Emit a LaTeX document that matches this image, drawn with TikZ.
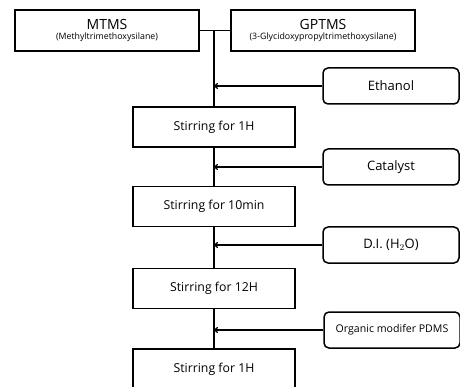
\documentclass[tikz,border=0pt]{standalone}
\usepackage{fontspec}
\setmainfont{Open Sans}
\usetikzlibrary{positioning, arrows.meta, calc}
\tikzset{
  srcbox/.style={draw, line width=1.5pt, minimum width=184pt, minimum height=41pt, inner sep=0pt, align=center},
  stirbox/.style={draw, line width=1.5pt, minimum width=162pt, minimum height=40pt, inner sep=0pt, font=\fontsize{12.3}{14}\selectfont},
  addbox/.style={draw, line width=1.5pt, rounded corners=5pt, minimum width=136pt, minimum height=36pt, inner sep=0pt, font=\fontsize{13}{15}\selectfont},
  wire/.style={line width=1.3pt},
  feed/.style={->, >={To[length=4pt,width=6pt]}, line width=1.3pt}
}
\newcommand{\chemname}[2]{{\fontsize{14}{14}\selectfont #1}\\[-2pt]{\fontsize{8.8}{10}\selectfont #2}}

\begin{document}
\begin{tikzpicture}[x=1pt, y=-1pt]
    \useasboundingbox (0,0) rectangle (460,387);
    \node[srcbox] (mtms)  at (107, 30.5) {\chemname{MTMS}{(Methyltrimethoxysilane)}};
    \node[srcbox] (gptms) at (323, 30.5) {\chemname{GPTMS}{(3-Glycidoxypropyltrimethoxysilane)}};
    \node[stirbox] (stirA) at (214, 127)   {Stirring for 1H};
    \node[stirbox] (stirB) at (214, 206.5) {Stirring for 10min};
    \node[stirbox] (stirC) at (214, 288.5) {Stirring for 12H};
    \node[stirbox] (stirD) at (214, 369)   {Stirring for 1H};
    \node[addbox] (ethanol)  at (391, 86)  {Ethanol};
    \node[addbox] (catalyst) at (391, 167) {Catalyst};
    \node[addbox] (dion)     at (391, 245) {D.I. (H$_2$O)};
    \node[addbox, font=\fontsize{10.6}{12}\selectfont] (pdms) at (392, 330) {Organic modifer PDMS};
    \coordinate (join) at (mtms.east -| stirA.north);
    %% precursors meet, then run down through the stirring steps
    \draw[wire] (mtms.east) -- (gptms.west);
    \draw[wire] (join) -- (stirA.north);
    \draw[wire] (stirA.south) -- (stirB.north);
    \draw[wire] (stirB.south) -- (stirC.north);
    \draw[wire] (stirC.south) -- (stirD.north);
    %% additions fed in from the right
    \draw[feed] (ethanol.west)  -- (ethanol.west -| join);
    \draw[feed] (catalyst.west) -- (catalyst.west -| join);
    \draw[feed] (dion.west)     -- (dion.west -| join);
    \draw[feed] (pdms.west)     -- (pdms.west -| join);
\end{tikzpicture}
\end{document}
